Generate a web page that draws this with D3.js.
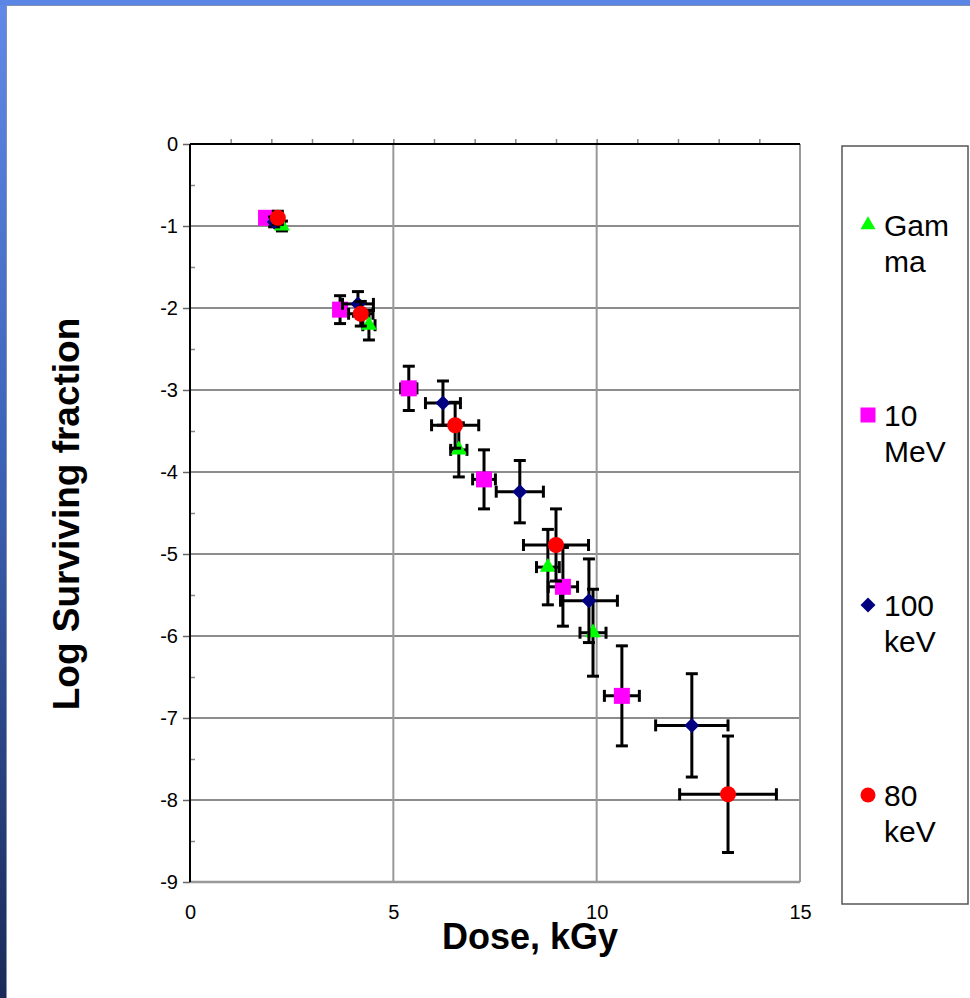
<!DOCTYPE html>
<html>
<head>
<meta charset="utf-8">
<script src="https://cdn.jsdelivr.net/npm/d3@7"></script>
<style>
  body { margin: 0; background: #fff; }
  svg { display: block; font-family: "Liberation Sans", Arial, sans-serif; }
</style>
</head>
<body>
<div id="chart"></div>
<script>
// dose (kGy), log surviving fraction and their error bars, per radiation type
const gammaDose     = [2.26, 4.40, 6.61, 8.80, 9.91];
const gammaLogSF    = [-1.00, -2.21, -3.73, -5.16, -5.96];
const gammaDoseErr  = [0.06, 0.15, 0.20, 0.28, 0.32];
const gammaLogSFErr = [0.06, 0.18, 0.33, 0.46, 0.53];

const mevDose     = [1.87, 3.69, 5.38, 7.23, 9.17, 10.62];
const mevLogSF    = [-0.90, -2.02, -2.98, -4.09, -5.40, -6.73];
const mevDoseErr  = [0.06, 0.10, 0.20, 0.28, 0.36, 0.43];
const mevLogSFErr = [0.06, 0.17, 0.27, 0.36, 0.48, 0.61];

const kev100Dose     = [2.07, 4.13, 6.22, 8.11, 9.81, 12.34];
const kev100LogSF    = [-0.95, -1.95, -3.16, -4.24, -5.57, -7.09];
const kev100DoseErr  = [0.08, 0.38, 0.43, 0.58, 0.70, 0.89];
const kev100LogSFErr = [0.06, 0.15, 0.27, 0.38, 0.51, 0.63];

const kev80Dose     = [2.16, 4.20, 6.52, 9.00, 13.23];
const kev80LogSF    = [-0.90, -2.07, -3.43, -4.89, -7.93];
const kev80DoseErr  = [0.10, 0.30, 0.58, 0.80, 1.19];
const kev80LogSFErr = [0.08, 0.15, 0.28, 0.44, 0.71];

const seriesNames  = ['Gamma', '10 MeV', '100 keV', '80 keV'];
const legendLines  = [['Gam', 'ma'], ['10', 'MeV'], ['100', 'keV'], ['80', 'keV']];
const xTicks = [0, 5, 10, 15];
const yTicks = [0, -1, -2, -3, -4, -5, -6, -7, -8, -9];

class SurvivalPlot {
    constructor() {
        this.margin = { top: 144, left: 190 };
        this.width = 610;
        this.height = 738;
        this.colors = ['#00ff00', '#ff00ff', '#000080', '#ff0000'];
        this.shapes = ['triangle', 'square', 'diamond', 'circle'];
    }

    series() {
        let cols = [
            [gammaDose, gammaLogSF, gammaDoseErr, gammaLogSFErr],
            [mevDose, mevLogSF, mevDoseErr, mevLogSFErr],
            [kev100Dose, kev100LogSF, kev100DoseErr, kev100LogSFErr],
            [kev80Dose, kev80LogSF, kev80DoseErr, kev80LogSFErr]
        ];
        return cols.map((c, i) => ({
            name: seriesNames[i],
            color: this.colors[i],
            shape: this.shapes[i],
            points: c[0].map((d, j) => ({ x: d, y: c[1][j], ex: c[2][j], ey: c[3][j] }))
        }));
    }

    marker(shape, s) {
        // s = visual width in px
        if (shape == 'triangle') return d3.symbol(d3.symbolTriangle, Math.sqrt(3) / 4 * s * s)();
        if (shape == 'square') return d3.symbol(d3.symbolSquare, s * s)();
        if (shape == 'circle') return d3.symbol(d3.symbolCircle, Math.PI * s * s / 4)();
        let h = s / 2;
        return `M0,${-h}L${h},0L0,${h}L${-h},0Z`;
    }

    drawPlot() {
        const W = 970, H = 998;
        let svg = d3.select('#chart').append('svg')
            .attr('width', W)
            .attr('height', H);

        // slide frame
        let grad = svg.append('defs').append('linearGradient')
            .attr('id', 'frame').attr('x1', 0).attr('y1', 0).attr('x2', 0).attr('y2', 1);
        grad.append('stop').attr('offset', '0%').attr('stop-color', '#5f8ae8');
        grad.append('stop').attr('offset', '45%').attr('stop-color', '#3d63b8');
        grad.append('stop').attr('offset', '100%').attr('stop-color', '#1b2a58');
        svg.append('rect').attr('width', W).attr('height', H).attr('fill', 'url(#frame)');
        svg.append('rect').attr('x', 0).attr('y', 0).attr('width', W).attr('height', 5).attr('fill', '#5b86e5');
        svg.append('rect')
            .attr('x', 6.5).attr('y', 5.5)
            .attr('width', W).attr('height', H)
            .attr('fill', '#fff').attr('stroke', '#8090b0').attr('stroke-width', 1);

        let x = d3.scaleLinear().domain([0, 15]).range([0, this.width]);
        let y = d3.scaleLinear().domain([0, -9]).range([0, this.height]);

        let g = svg.append('g')
            .attr('transform', `translate(${this.margin.left},${this.margin.top})`);

        // gridlines
        g.selectAll('.hgrid').data(yTicks.filter(d => d < 0)).enter()
            .append('line')
            .attr('x1', 0).attr('x2', this.width)
            .attr('y1', d => y(d)).attr('y2', d => y(d))
            .attr('stroke', d => d == -9 ? '#999' : '#666')
            .attr('stroke-width', d => d == -9 ? 2.5 : 1.5);
        g.selectAll('.vgrid').data(xTicks.filter(d => d > 0)).enter()
            .append('line')
            .attr('y1', 0).attr('y2', this.height)
            .attr('x1', d => x(d)).attr('x2', d => x(d))
            .attr('stroke', '#999')
            .attr('stroke-width', 2);

        // top axis with unit minor ticks
        let top = g.append('g')
            .call(d3.axisTop(x).tickValues(d3.range(1, 15)).tickSize(5).tickFormat(''));
        top.select('.domain').remove();
        top.selectAll('.tick line').attr('stroke', '#888').attr('stroke-width', 1.5);
        g.append('line').attr('x1', 0).attr('x2', this.width).attr('y1', 0).attr('y2', 0)
            .attr('stroke', '#000').attr('stroke-width', 2);

        // left axis
        let left = g.append('g')
            .call(d3.axisLeft(y).tickValues(yTicks).tickSize(7).tickPadding(5).tickFormat(d3.format('d')));
        left.select('.domain').remove();
        left.selectAll('.tick line').attr('stroke', '#666').attr('stroke-width', 1.5);
        left.selectAll('.tick text')
            .attr('font-size', 20).attr('fill', '#000')
            .attr('font-family', '"Liberation Sans", Arial, sans-serif')
            .text(d => d == 0 ? '0' : '-' + Math.abs(d));
        let minor = g.append('g')
            .call(d3.axisRight(y).tickValues(d3.range(-0.5, -9, -1)).tickSize(5).tickFormat(''));
        minor.select('.domain').remove();
        minor.selectAll('.tick line').attr('stroke', '#888').attr('stroke-width', 1.5);
        g.append('line').attr('x1', 0).attr('x2', 0).attr('y1', 0).attr('y2', this.height)
            .attr('stroke', '#000').attr('stroke-width', 2);

        // bottom labels
        let bottom = g.append('g')
            .attr('transform', `translate(0,${this.height})`)
            .call(d3.axisBottom(x).tickValues(xTicks).tickSize(0).tickPadding(23));
        bottom.select('.domain').remove();
        bottom.selectAll('.tick text')
            .attr('font-size', 20).attr('fill', '#000')
            .attr('font-family', '"Liberation Sans", Arial, sans-serif');

        // axis titles
        svg.append('text')
            .attr('x', 530).attr('y', 949)
            .attr('text-anchor', 'middle')
            .attr('font-size', 36).attr('font-weight', 'bold')
            .text('Dose, kGy');
        svg.append('text')
            .attr('transform', 'translate(79,514) rotate(-90)')
            .attr('text-anchor', 'middle')
            .attr('font-size', 37).attr('font-weight', 'bold')
            .text('Log Surviving fraction');

        // series: error bars then markers
        let cap = 6;
        this.series().forEach(s => {
            let sg = g.append('g');
            let eb = sg.selectAll('.eb').data(s.points).enter().append('g')
                .attr('stroke', '#000').attr('stroke-width', 3).attr('fill', 'none');
            eb.append('line')
                .attr('x1', d => x(d.x)).attr('x2', d => x(d.x))
                .attr('y1', d => y(d.y - d.ey)).attr('y2', d => y(d.y + d.ey));
            eb.append('line')
                .attr('x1', d => x(d.x) - cap).attr('x2', d => x(d.x) + cap)
                .attr('y1', d => y(d.y - d.ey)).attr('y2', d => y(d.y - d.ey));
            eb.append('line')
                .attr('x1', d => x(d.x) - cap).attr('x2', d => x(d.x) + cap)
                .attr('y1', d => y(d.y + d.ey)).attr('y2', d => y(d.y + d.ey));
            eb.append('line')
                .attr('x1', d => x(d.x - d.ex)).attr('x2', d => x(d.x + d.ex))
                .attr('y1', d => y(d.y)).attr('y2', d => y(d.y));
            eb.append('line')
                .attr('x1', d => x(d.x - d.ex)).attr('x2', d => x(d.x - d.ex))
                .attr('y1', d => y(d.y) - cap).attr('y2', d => y(d.y) + cap);
            eb.append('line')
                .attr('x1', d => x(d.x + d.ex)).attr('x2', d => x(d.x + d.ex))
                .attr('y1', d => y(d.y) - cap).attr('y2', d => y(d.y) + cap);

            let size = s.shape == 'diamond' ? 15 : 16;
            sg.selectAll('.pt').data(s.points).enter().append('path')
                .attr('d', this.marker(s.shape, size))
                .attr('transform', d => `translate(${x(d.x)},${y(d.y)})`)
                .attr('fill', s.color);
        });

        // legend
        let lg = svg.append('g');
        lg.append('rect')
            .attr('x', 842).attr('y', 146).attr('width', 126).attr('height', 758)
            .attr('fill', '#fff').attr('stroke', '#555').attr('stroke-width', 1.5);
        let ly = d3.scalePoint().domain(seriesNames).range([225, 795]);
        this.series().forEach((s, i) => {
            let cy = ly(s.name);
            lg.append('path')
                .attr('d', this.marker(s.shape, 15))
                .attr('transform', `translate(868,${cy})`)
                .attr('fill', s.color);
            let t = lg.append('text')
                .attr('x', 884).attr('y', cy + 11)
                .attr('font-size', 30).attr('fill', '#000');
            legendLines[i].forEach((line, k) => {
                t.append('tspan').attr('x', 884).attr('dy', k == 0 ? 0 : 36).text(line);
            });
        });
    }
}

let plot = new SurvivalPlot();
plot.drawPlot();
</script>
</body>
</html>
